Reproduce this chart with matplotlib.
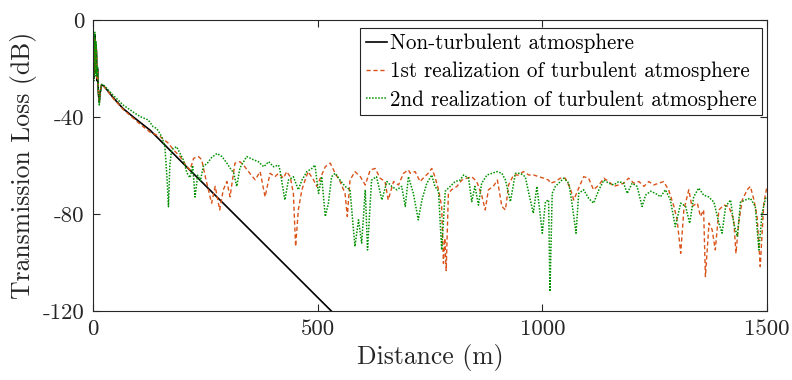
import matplotlib
matplotlib.use("Agg")
import matplotlib.pyplot as plt

plt.rcParams["font.family"] = ["cmr10", "DejaVu Serif"]
plt.rcParams["mathtext.fontset"] = "cm"
plt.rcParams["axes.unicode_minus"] = False
plt.rcParams["axes.formatter.use_mathtext"] = True

# ---- data (distance in m, transmission loss in dB) ----
dist_clean = [0, 1, 2, 3, 4, 5, 6, 7, 8, 9, 10, 12, 14, 16, 19, 23, 30, 45, 67, 90,
              127, 200, 300, 400, 500, 532]
tl_clean = [-20, -8, -24, -12, -6, -15, -22, -11, -14, -25, -20, -30, -34, -30, -26.8,
            -27, -28.5, -32, -36.5, -40, -45.4, -59, -77.4, -95.9, -114.4, -120.3]

dist_turb1 = [0, 1, 2, 3, 4, 5, 6, 7, 8, 9, 10, 12, 14, 16, 19, 23, 30, 45, 67, 90,
              105, 127, 149, 168, 179, 194, 209, 216, 224, 235, 242, 250, 257, 264, 272,
              282, 290, 298, 305, 316, 327, 335, 349, 361, 372, 383, 394, 405, 413, 424,
              431, 439, 446, 451, 457, 465, 472, 479, 491, 498, 506, 517, 528, 539, 550,
              561, 566, 572, 583, 595, 606, 617, 628, 639, 650, 657, 669, 680, 691, 702,
              706, 717, 728, 735, 746, 754, 761, 769, 776, 780, 783, 786, 791, 798, 810,
              821, 832, 843, 854, 865, 873, 880, 891, 900, 910, 918, 925, 936, 947, 958,
              970, 981, 992, 1003, 1014, 1018, 1029, 1040, 1051, 1062, 1070, 1081, 1092,
              1103, 1114, 1126, 1137, 1148, 1159, 1170, 1181, 1192, 1204, 1215, 1226,
              1237, 1248, 1259, 1270, 1281, 1293, 1300, 1308, 1315, 1326, 1333, 1345,
              1352, 1359, 1363, 1371, 1378, 1385, 1393, 1404, 1415, 1426, 1431, 1437,
              1445, 1456, 1463, 1471, 1478, 1485, 1493, 1500]
tl_turb1 = [-18, -9, -23, -13, -7, -16, -21, -10, -15, -24, -21, -29, -33, -30, -26.8,
            -27, -28.6, -32.3, -36.8, -40.5, -43, -46.2, -48, -50.8, -53.5, -56.3, -60.5,
            -61.8, -57, -56.3, -57.6, -64.6, -70, -75.5, -68.6, -78.3, -70, -66.6, -72.9,
            -59, -58.4, -59.8, -63.2, -65.9, -62.5, -72.9, -63.2, -64.6, -63.2, -65.2,
            -62.5, -64.6, -71.5, -93.4, -78.3, -70, -66, -62.5, -66, -68.6, -65.2, -60.5,
            -59, -63.2, -66.6, -71.5, -81, -66, -62.5, -64.6, -68, -61.8, -61.2, -65.2,
            -66.6, -74.2, -66.6, -68, -63.2, -61.8, -63.2, -62.5, -66.6, -65.2, -63.2,
            -61.2, -64.6, -70, -76.9, -100.4, -90, -103.3, -71.5, -70, -68.6, -66, -65.2,
            -64.6, -66.6, -72.2, -78.3, -70, -68.6, -66, -76.9, -78.3, -68, -63.9, -63.9,
            -62.5, -63.9, -63.9, -64.6, -65.2, -66, -67.3, -66.6, -65.2, -65.2, -69.3,
            -74.2, -69.3, -64.6, -65.2, -70, -68, -65.2, -66.6, -68.6, -68, -67.3, -65.2,
            -67.3, -66.6, -68.6, -66.6, -68, -67.3, -66.6, -70, -76.9, -82.4, -96.2,
            -78.3, -70, -76.9, -75.5, -81, -78.3, -105.8, -83.8, -86.5, -94.8, -78.3,
            -76.3, -76.9, -82.4, -96.2, -83.8, -74.2, -70, -68.6, -74.2, -81, -101.7,
            -75.5, -68.6]

dist_turb2 = [0, 1, 2, 3, 4, 5, 6, 7, 8, 9, 10, 12, 14, 16, 19, 23, 30, 45, 67, 90,
              105, 123, 134, 142, 153, 160, 165, 168, 171, 175, 186, 201, 209, 216, 222,
              227, 233, 239, 246, 253, 264, 276, 287, 298, 305, 313, 320, 327, 342, 357,
              368, 380, 391, 402, 413, 416, 427, 435, 446, 457, 465, 476, 487, 494, 502,
              509, 517, 524, 531, 539, 550, 561, 572, 583, 591, 598, 606, 611, 620, 631,
              643, 654, 665, 676, 687, 695, 702, 713, 724, 732, 743, 754, 761, 769, 776,
              784, 795, 806, 817, 825, 836, 843, 850, 858, 865, 877, 888, 899, 910, 918,
              929, 940, 951, 962, 970, 980, 988, 1000, 1007, 1014, 1017, 1022, 1029, 1040,
              1048, 1059, 1066, 1075, 1081, 1092, 1103, 1114, 1126, 1137, 1148, 1159,
              1170, 1181, 1189, 1200, 1211, 1222, 1230, 1241, 1252, 1263, 1274, 1285,
              1296, 1308, 1319, 1328, 1337, 1348, 1359, 1370, 1382, 1393, 1400, 1408,
              1419, 1426, 1434, 1441, 1452, 1463, 1474, 1482, 1489, 1497, 1500]
tl_turb2 = [-22, -7, -25, -11, -5, -17, -23, -9, -16, -23, -19, -30, -35, -30, -26.5,
            -26.7, -28, -31, -35, -38, -39.8, -41.2, -44, -44.7, -48.1, -52, -66, -77, -60,
            -53.5, -52.2, -57.6, -63, -65, -60, -73, -64, -66.3, -60, -59.4, -56.7, -55,
            -56.3, -59, -61, -63, -68.6, -61, -56.3, -57.6, -58.4, -60.5, -58.4, -60.5,
            -59.8, -61.8, -74.2, -66, -64.6, -70, -66, -62.5, -61.2, -59.8, -71.5, -64.6,
            -81, -75.5, -64.6, -63.2, -66, -68.6, -70, -93.4, -82.4, -92, -70, -94.8, -66,
            -64.6, -74.2, -66.6, -68.6, -70, -68.6, -76.9, -64.6, -71.5, -82.4, -74.2,
            -67.3, -63.9, -68.6, -70.6, -94.8, -70.6, -68.6, -66.6, -66, -63.9, -65.2,
            -74.9, -68.6, -76.3, -67.3, -63.9, -63.2, -62.5, -63.2, -66, -74.9, -63.2,
            -63.2, -64.6, -71.5, -79.7, -68.6, -87.9, -74.9, -74.2, -112, -71.5, -68.6,
            -66.6, -65.2, -67.3, -75.5, -87.9, -71.5, -70, -73.5, -75.5, -70, -66, -67.3,
            -68, -66.6, -67.3, -71.5, -67.3, -68.6, -76.9, -72.2, -70.6, -71.5, -72.9,
            -70, -74.2, -85.2, -75.5, -76.9, -83.8, -72.9, -69.3, -72.2, -72.9, -75.1,
            -83.8, -87.9, -76.9, -74.2, -83.8, -89.3, -75.1, -74.2, -73.5, -76.9, -94.8,
            -79.7, -73.5, -73.5]

labels = ["Non-turbulent atmosphere",
          "1st realization of turbulent atmosphere",
          "2nd realization of turbulent atmosphere"]

fig = plt.figure(figsize=(7.92, 3.80), dpi=100)
ax = fig.add_axes([0.1174, 0.1816, 0.851, 0.7655])

ax.plot(dist_clean, tl_clean, color="black", lw=1.2, label=labels[0])
ax.plot(dist_turb1, tl_turb1, color="#D95319", lw=1.0, ls=(0, (3, 2)), label=labels[1])
ax.plot(dist_turb2, tl_turb2, color="#009000", lw=1.1, ls=(0, (1, 1)), label=labels[2])

ax.set_xlim(0, 1500)
ax.set_ylim(-120, 0)
ax.set_xticks([0, 500, 1000, 1500])
ax.set_xticklabels(["0", "500", "1000", "1500"])
ax.set_yticks([-120, -80, -40, 0])
ax.set_yticklabels(["-120", "-80", "-40", "0"])
ax.tick_params(direction="in", length=5, width=0.8, top=True, right=True,
               labelsize=16.5, colors="#262626", pad=6)
for sp in ax.spines.values():
    sp.set_color("#262626")
    sp.set_linewidth(0.8)

ax.set_xlabel("Distance (m)", fontsize=18.5, color="#262626", labelpad=4)
ax.set_ylabel("Transmission Loss (dB)", fontsize=18.5, color="#262626", labelpad=4)

leg = ax.legend(loc="upper right", bbox_to_anchor=(0.9926, 0.9725), borderaxespad=0,
                fontsize=15.2, frameon=True, fancybox=False, edgecolor="#262626",
                framealpha=1, handlelength=1.0, handletextpad=0.15, borderpad=0.25,
                labelspacing=0.42)
leg.get_frame().set_linewidth(0.8)

fig.savefig("out.png", dpi=100)
